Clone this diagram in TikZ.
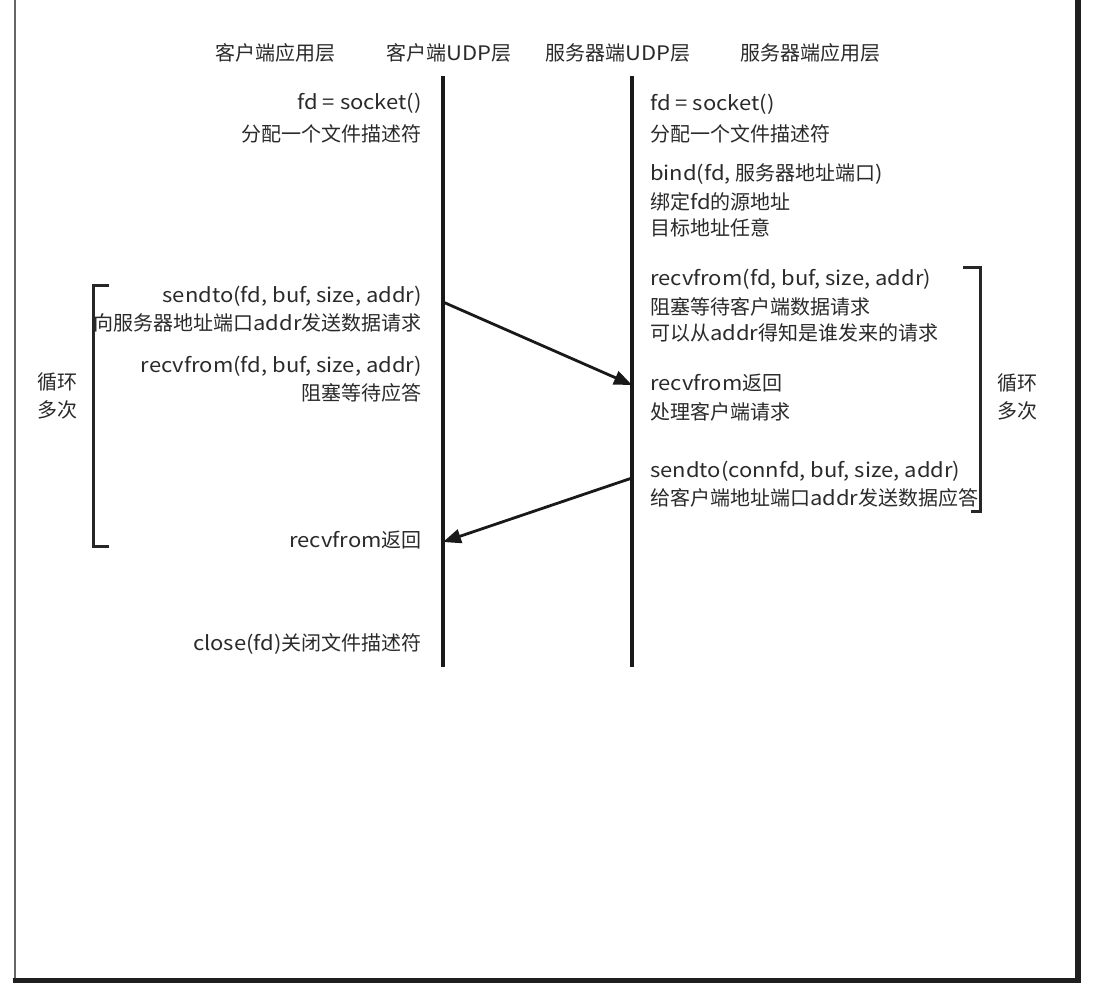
\documentclass[tikz,border=0pt]{standalone}
\usepackage{fontspec}
\setmainfont{Noto Sans CJK SC}
\newfontfamily\lat[FakeStretch=1.1]{Noto Sans CJK SC}
\usetikzlibrary{arrows.meta}
\definecolor{txt}{HTML}{2A2A2A}
\begin{document}
\begin{tikzpicture}[x=1pt,y=-1pt,
  every node/.style={inner sep=0pt,text=txt,font=\fontsize{20}{24}\selectfont},
  lt/.style={anchor=base east},
  rt/.style={anchor=base west},
  hd/.style={anchor=base},
  life/.style={line width=3.2pt,draw=black!90},
  msg/.style={line width=2.8pt,draw=black!90,-{Triangle[length=18pt,width=14pt]}},
  brk/.style={line width=3pt,draw=black!85},
  loopt/.style={align=center,font=\fontsize{20}{28}\selectfont}]
\useasboundingbox (0,0) rectangle (1094,996);
\fill[white] (0,0) rectangle (1094,996);
% frame
\draw[line width=1.2pt,draw=black!60] (15,0) -- (15,979);
\draw[line width=5pt,draw=black!88] (12.5,980) -- (1081,980);
\draw[line width=6pt,draw=black!88] (1078,0) -- (1078,982.5);
% headers
\node[hd] (h1) at (275,60) {客户端应用层};
\node[hd] (h2) at (449,60) {客户端{\lat UDP}层};
\node[hd] (h3) at (618,60) {服务器端{\lat UDP}层};
\node[hd] (h4) at (810,60) {服务器端应用层};
% lifelines
\coordinate (ct) at (443,76);
\coordinate (cb) at (443,667);
\coordinate (st) at (632,76);
\coordinate (sb) at (632,667);
\draw[life] (ct) -- (cb);
\draw[life] (st) -- (sb);
% client texts
\node[lt] (c1) at (422,109) {\lat fd = socket()};
\node[lt] (c2) at (422,141) {分配一个文件描述符};
\node[lt] (c3) at (422,302) {\lat sendto(fd, buf, size, addr)};
\node[lt] (c4) at (422,330) {向服务器地址端口{\lat addr}发送数据请求};
\node[lt] (c5) at (422,372) {\lat recvfrom(fd, buf, size, addr)};
\node[lt] (c6) at (422,400) {阻塞等待应答};
\node[lt] (c7) at (422,547) {{\lat recvfrom}返回};
\node[lt] (c8) at (422,650) {{\lat close(fd)}关闭文件描述符};
% server texts
\node[rt] (s1) at (650,110) {\lat fd = socket()};
\node[rt] (s2) at (650,141) {分配一个文件描述符};
\node[rt] (s3) at (650,180) {{\lat bind(fd, }服务器地址端口{\lat )}};
\node[rt] (s4) at (650,209) {绑定{\lat fd}的源地址};
\node[rt] (s5) at (650,235) {目标地址任意};
\node[rt] (s6) at (650,285) {\lat recvfrom(fd, buf, size, addr)};
\node[rt] (s7) at (650,314) {阻塞等待客户端数据请求};
\node[rt] (s8) at (650,340) {可以从{\lat addr}得知是谁发来的请求};
\node[rt] (s9) at (650,390) {{\lat recvfrom}返回};
\node[rt] (s10) at (650,419) {处理客户端请求};
\node[rt] (s11) at (650,477) {\lat sendto(connfd, buf, size, addr)};
\node[rt] (s12) at (650,505) {给客户端地址端口{\lat addr}发送数据应答};
% messages
\coordinate (m1a) at (443,302);
\coordinate (m1b) at (632,385);
\coordinate (m2a) at (632,478);
\coordinate (m2b) at (443,542);
\draw[msg] (m1a) -- (m1b);
\draw[msg] (m2a) -- (m2b);
% loop brackets
\draw[brk] (109,285) -- (93,285) -- (93,546) -- (109,546);
\node[loopt] (L1) at (57,396) {循环\\多次};
\draw[brk] (963,267) -- (980,267) -- (980,511) -- (971,511);
\node[loopt] (L2) at (1017,397) {循环\\多次};
\end{tikzpicture}
\end{document}
